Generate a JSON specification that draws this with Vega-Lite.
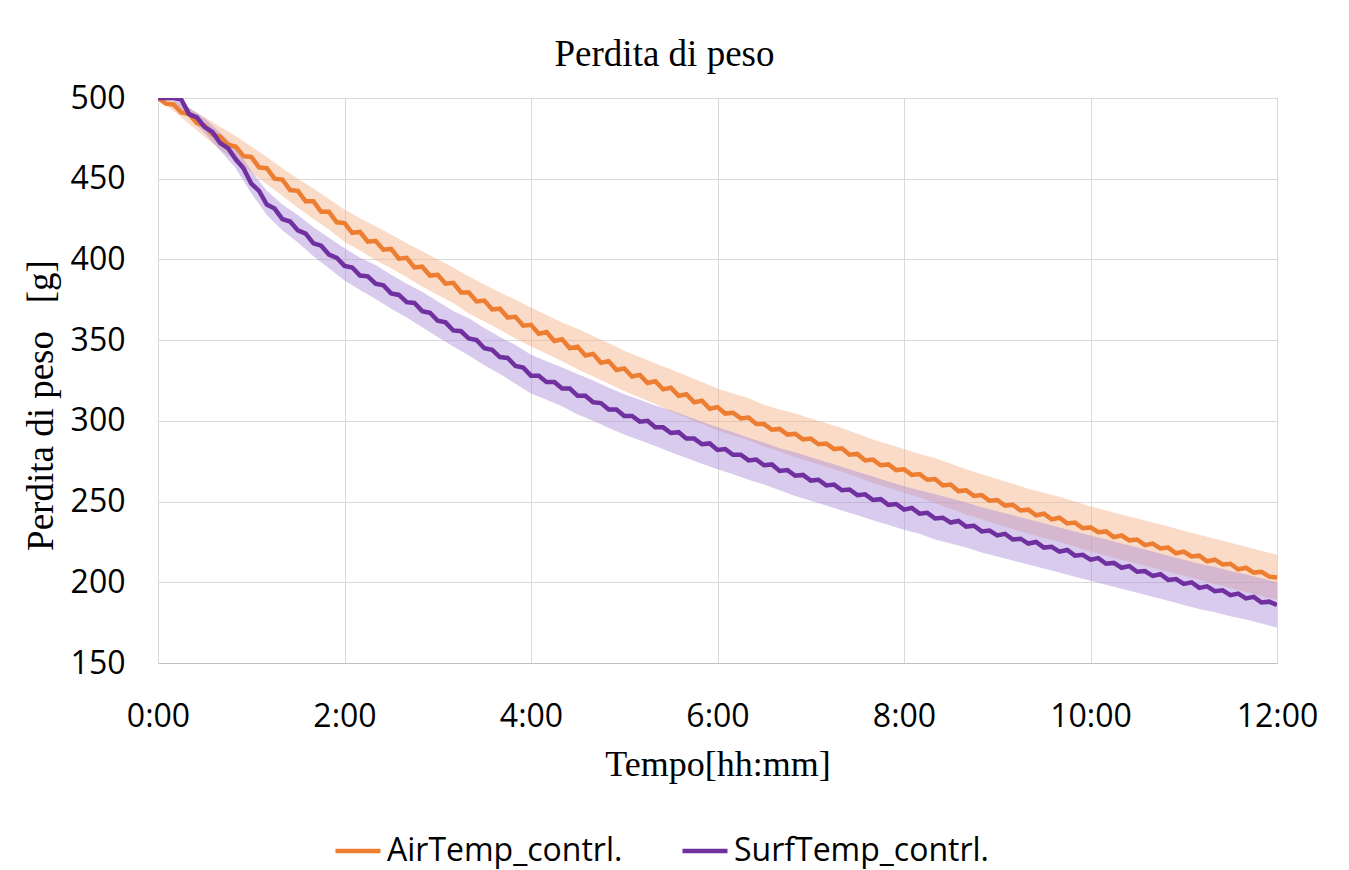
{
"$schema": "https://vega.github.io/schema/vega-lite/v6.json",
"width": 1119, "height": 565,
"autosize": {"type": "none"},
"padding": {"left": 158, "top": 98, "right": 72, "bottom": 207},
"background": "white",
"title": {"text": "Perdita di peso", "font": "Liberation Serif", "fontSize": 37, "fontWeight": "normal", "color": "#000", "anchor": "middle", "dx": -53, "offset": 8},
"datasets": {
"line": [
{"t":0,"s":"AirTemp_contrl.","v":500},{"t":5,"s":"AirTemp_contrl.","v":496.5},{"t":10,"s":"AirTemp_contrl.","v":496},{"t":15,"s":"AirTemp_contrl.","v":491},{"t":20,"s":"AirTemp_contrl.","v":490},{"t":25,"s":"AirTemp_contrl.","v":484.5},{"t":30,"s":"AirTemp_contrl.","v":483},{"t":35,"s":"AirTemp_contrl.","v":477.5},{"t":40,"s":"AirTemp_contrl.","v":476},{"t":45,"s":"AirTemp_contrl.","v":471},{"t":50,"s":"AirTemp_contrl.","v":470},{"t":55,"s":"AirTemp_contrl.","v":464},{"t":60,"s":"AirTemp_contrl.","v":463.5},{"t":65,"s":"AirTemp_contrl.","v":457},{"t":70,"s":"AirTemp_contrl.","v":456.5},{"t":75,"s":"AirTemp_contrl.","v":450},{"t":80,"s":"AirTemp_contrl.","v":449.5},{"t":85,"s":"AirTemp_contrl.","v":443},{"t":90,"s":"AirTemp_contrl.","v":442.5},{"t":95,"s":"AirTemp_contrl.","v":436},{"t":100,"s":"AirTemp_contrl.","v":436},{"t":105,"s":"AirTemp_contrl.","v":429.5},{"t":110,"s":"AirTemp_contrl.","v":429.5},{"t":115,"s":"AirTemp_contrl.","v":423},{"t":120,"s":"AirTemp_contrl.","v":422.5},{"t":125,"s":"AirTemp_contrl.","v":416.5},{"t":130,"s":"AirTemp_contrl.","v":417},{"t":135,"s":"AirTemp_contrl.","v":411},{"t":140,"s":"AirTemp_contrl.","v":411.5},{"t":145,"s":"AirTemp_contrl.","v":406},{"t":150,"s":"AirTemp_contrl.","v":406.5},{"t":155,"s":"AirTemp_contrl.","v":400.5},{"t":160,"s":"AirTemp_contrl.","v":401},{"t":165,"s":"AirTemp_contrl.","v":395},{"t":170,"s":"AirTemp_contrl.","v":395.5},{"t":175,"s":"AirTemp_contrl.","v":390},{"t":180,"s":"AirTemp_contrl.","v":390.5},{"t":185,"s":"AirTemp_contrl.","v":385},{"t":190,"s":"AirTemp_contrl.","v":385.5},{"t":195,"s":"AirTemp_contrl.","v":379.5},{"t":200,"s":"AirTemp_contrl.","v":379.5},{"t":205,"s":"AirTemp_contrl.","v":374},{"t":210,"s":"AirTemp_contrl.","v":374.5},{"t":215,"s":"AirTemp_contrl.","v":369},{"t":220,"s":"AirTemp_contrl.","v":369.5},{"t":225,"s":"AirTemp_contrl.","v":364},{"t":230,"s":"AirTemp_contrl.","v":364.5},{"t":235,"s":"AirTemp_contrl.","v":359},{"t":240,"s":"AirTemp_contrl.","v":359.5},{"t":245,"s":"AirTemp_contrl.","v":354},{"t":250,"s":"AirTemp_contrl.","v":355},{"t":255,"s":"AirTemp_contrl.","v":349.5},{"t":260,"s":"AirTemp_contrl.","v":350.5},{"t":265,"s":"AirTemp_contrl.","v":345},{"t":270,"s":"AirTemp_contrl.","v":346},{"t":275,"s":"AirTemp_contrl.","v":340.5},{"t":280,"s":"AirTemp_contrl.","v":341.5},{"t":285,"s":"AirTemp_contrl.","v":336},{"t":290,"s":"AirTemp_contrl.","v":337},{"t":295,"s":"AirTemp_contrl.","v":331.5},{"t":300,"s":"AirTemp_contrl.","v":332.5},{"t":305,"s":"AirTemp_contrl.","v":327.5},{"t":310,"s":"AirTemp_contrl.","v":328.5},{"t":315,"s":"AirTemp_contrl.","v":323.5},{"t":320,"s":"AirTemp_contrl.","v":324.5},{"t":325,"s":"AirTemp_contrl.","v":319.5},{"t":330,"s":"AirTemp_contrl.","v":320.5},{"t":335,"s":"AirTemp_contrl.","v":315.5},{"t":340,"s":"AirTemp_contrl.","v":316.5},{"t":345,"s":"AirTemp_contrl.","v":311.5},{"t":350,"s":"AirTemp_contrl.","v":312.5},{"t":355,"s":"AirTemp_contrl.","v":307.5},{"t":360,"s":"AirTemp_contrl.","v":308.5},{"t":365,"s":"AirTemp_contrl.","v":304.5},{"t":370,"s":"AirTemp_contrl.","v":305},{"t":375,"s":"AirTemp_contrl.","v":301.5},{"t":380,"s":"AirTemp_contrl.","v":302},{"t":385,"s":"AirTemp_contrl.","v":298},{"t":390,"s":"AirTemp_contrl.","v":298},{"t":395,"s":"AirTemp_contrl.","v":294.5},{"t":400,"s":"AirTemp_contrl.","v":295},{"t":405,"s":"AirTemp_contrl.","v":291.5},{"t":410,"s":"AirTemp_contrl.","v":292},{"t":415,"s":"AirTemp_contrl.","v":288.5},{"t":420,"s":"AirTemp_contrl.","v":289},{"t":425,"s":"AirTemp_contrl.","v":285.5},{"t":430,"s":"AirTemp_contrl.","v":286},{"t":435,"s":"AirTemp_contrl.","v":282.5},{"t":440,"s":"AirTemp_contrl.","v":283},{"t":445,"s":"AirTemp_contrl.","v":279},{"t":450,"s":"AirTemp_contrl.","v":279.5},{"t":455,"s":"AirTemp_contrl.","v":275.5},{"t":460,"s":"AirTemp_contrl.","v":276},{"t":465,"s":"AirTemp_contrl.","v":272.5},{"t":470,"s":"AirTemp_contrl.","v":273},{"t":475,"s":"AirTemp_contrl.","v":269.5},{"t":480,"s":"AirTemp_contrl.","v":270},{"t":485,"s":"AirTemp_contrl.","v":266.5},{"t":490,"s":"AirTemp_contrl.","v":267},{"t":495,"s":"AirTemp_contrl.","v":263.5},{"t":500,"s":"AirTemp_contrl.","v":264},{"t":505,"s":"AirTemp_contrl.","v":260},{"t":510,"s":"AirTemp_contrl.","v":260.5},{"t":515,"s":"AirTemp_contrl.","v":256.5},{"t":520,"s":"AirTemp_contrl.","v":257},{"t":525,"s":"AirTemp_contrl.","v":253.5},{"t":530,"s":"AirTemp_contrl.","v":254},{"t":535,"s":"AirTemp_contrl.","v":250.5},{"t":540,"s":"AirTemp_contrl.","v":251},{"t":545,"s":"AirTemp_contrl.","v":247.5},{"t":550,"s":"AirTemp_contrl.","v":248},{"t":555,"s":"AirTemp_contrl.","v":244.5},{"t":560,"s":"AirTemp_contrl.","v":245},{"t":565,"s":"AirTemp_contrl.","v":241.5},{"t":570,"s":"AirTemp_contrl.","v":242.5},{"t":575,"s":"AirTemp_contrl.","v":239},{"t":580,"s":"AirTemp_contrl.","v":240},{"t":585,"s":"AirTemp_contrl.","v":236.5},{"t":590,"s":"AirTemp_contrl.","v":237},{"t":595,"s":"AirTemp_contrl.","v":233.5},{"t":600,"s":"AirTemp_contrl.","v":234},{"t":605,"s":"AirTemp_contrl.","v":231},{"t":610,"s":"AirTemp_contrl.","v":231.5},{"t":615,"s":"AirTemp_contrl.","v":228},{"t":620,"s":"AirTemp_contrl.","v":229},{"t":625,"s":"AirTemp_contrl.","v":226},{"t":630,"s":"AirTemp_contrl.","v":226.5},{"t":635,"s":"AirTemp_contrl.","v":223},{"t":640,"s":"AirTemp_contrl.","v":224},{"t":645,"s":"AirTemp_contrl.","v":221},{"t":650,"s":"AirTemp_contrl.","v":221.5},{"t":655,"s":"AirTemp_contrl.","v":218},{"t":660,"s":"AirTemp_contrl.","v":219},{"t":665,"s":"AirTemp_contrl.","v":216},{"t":670,"s":"AirTemp_contrl.","v":216.5},{"t":675,"s":"AirTemp_contrl.","v":213},{"t":680,"s":"AirTemp_contrl.","v":214},{"t":685,"s":"AirTemp_contrl.","v":211},{"t":690,"s":"AirTemp_contrl.","v":211.5},{"t":695,"s":"AirTemp_contrl.","v":208},{"t":700,"s":"AirTemp_contrl.","v":209},{"t":705,"s":"AirTemp_contrl.","v":206},{"t":710,"s":"AirTemp_contrl.","v":206.5},{"t":715,"s":"AirTemp_contrl.","v":203.5},{"t":720,"s":"AirTemp_contrl.","v":203},
{"t":0,"s":"SurfTemp_contrl.","v":500},{"t":5,"s":"SurfTemp_contrl.","v":500},{"t":10,"s":"SurfTemp_contrl.","v":500},{"t":15,"s":"SurfTemp_contrl.","v":499},{"t":20,"s":"SurfTemp_contrl.","v":490},{"t":25,"s":"SurfTemp_contrl.","v":488},{"t":30,"s":"SurfTemp_contrl.","v":482},{"t":35,"s":"SurfTemp_contrl.","v":479},{"t":40,"s":"SurfTemp_contrl.","v":472},{"t":45,"s":"SurfTemp_contrl.","v":469},{"t":50,"s":"SurfTemp_contrl.","v":462},{"t":55,"s":"SurfTemp_contrl.","v":456.5},{"t":60,"s":"SurfTemp_contrl.","v":447},{"t":65,"s":"SurfTemp_contrl.","v":442.5},{"t":70,"s":"SurfTemp_contrl.","v":434},{"t":75,"s":"SurfTemp_contrl.","v":431.5},{"t":80,"s":"SurfTemp_contrl.","v":425},{"t":85,"s":"SurfTemp_contrl.","v":423.5},{"t":90,"s":"SurfTemp_contrl.","v":418},{"t":95,"s":"SurfTemp_contrl.","v":416},{"t":100,"s":"SurfTemp_contrl.","v":410},{"t":105,"s":"SurfTemp_contrl.","v":408.5},{"t":110,"s":"SurfTemp_contrl.","v":403},{"t":115,"s":"SurfTemp_contrl.","v":401},{"t":120,"s":"SurfTemp_contrl.","v":396},{"t":125,"s":"SurfTemp_contrl.","v":395},{"t":130,"s":"SurfTemp_contrl.","v":390},{"t":135,"s":"SurfTemp_contrl.","v":389.5},{"t":140,"s":"SurfTemp_contrl.","v":385},{"t":145,"s":"SurfTemp_contrl.","v":384},{"t":150,"s":"SurfTemp_contrl.","v":379},{"t":155,"s":"SurfTemp_contrl.","v":378},{"t":160,"s":"SurfTemp_contrl.","v":373.5},{"t":165,"s":"SurfTemp_contrl.","v":373},{"t":170,"s":"SurfTemp_contrl.","v":368},{"t":175,"s":"SurfTemp_contrl.","v":367},{"t":180,"s":"SurfTemp_contrl.","v":362},{"t":185,"s":"SurfTemp_contrl.","v":361},{"t":190,"s":"SurfTemp_contrl.","v":356},{"t":195,"s":"SurfTemp_contrl.","v":355.5},{"t":200,"s":"SurfTemp_contrl.","v":351},{"t":205,"s":"SurfTemp_contrl.","v":350},{"t":210,"s":"SurfTemp_contrl.","v":345},{"t":215,"s":"SurfTemp_contrl.","v":344},{"t":220,"s":"SurfTemp_contrl.","v":339.5},{"t":225,"s":"SurfTemp_contrl.","v":339},{"t":230,"s":"SurfTemp_contrl.","v":334},{"t":235,"s":"SurfTemp_contrl.","v":333},{"t":240,"s":"SurfTemp_contrl.","v":328},{"t":245,"s":"SurfTemp_contrl.","v":328},{"t":250,"s":"SurfTemp_contrl.","v":324},{"t":255,"s":"SurfTemp_contrl.","v":324},{"t":260,"s":"SurfTemp_contrl.","v":320},{"t":265,"s":"SurfTemp_contrl.","v":320},{"t":270,"s":"SurfTemp_contrl.","v":315.5},{"t":275,"s":"SurfTemp_contrl.","v":315.5},{"t":280,"s":"SurfTemp_contrl.","v":311.5},{"t":285,"s":"SurfTemp_contrl.","v":311},{"t":290,"s":"SurfTemp_contrl.","v":307},{"t":295,"s":"SurfTemp_contrl.","v":307},{"t":300,"s":"SurfTemp_contrl.","v":303},{"t":305,"s":"SurfTemp_contrl.","v":303},{"t":310,"s":"SurfTemp_contrl.","v":299.5},{"t":315,"s":"SurfTemp_contrl.","v":300},{"t":320,"s":"SurfTemp_contrl.","v":296},{"t":325,"s":"SurfTemp_contrl.","v":296},{"t":330,"s":"SurfTemp_contrl.","v":292.5},{"t":335,"s":"SurfTemp_contrl.","v":293},{"t":340,"s":"SurfTemp_contrl.","v":289},{"t":345,"s":"SurfTemp_contrl.","v":289},{"t":350,"s":"SurfTemp_contrl.","v":285.5},{"t":355,"s":"SurfTemp_contrl.","v":286},{"t":360,"s":"SurfTemp_contrl.","v":282},{"t":365,"s":"SurfTemp_contrl.","v":282.5},{"t":370,"s":"SurfTemp_contrl.","v":279},{"t":375,"s":"SurfTemp_contrl.","v":279},{"t":380,"s":"SurfTemp_contrl.","v":275.5},{"t":385,"s":"SurfTemp_contrl.","v":276},{"t":390,"s":"SurfTemp_contrl.","v":272.5},{"t":395,"s":"SurfTemp_contrl.","v":273},{"t":400,"s":"SurfTemp_contrl.","v":269},{"t":405,"s":"SurfTemp_contrl.","v":269.5},{"t":410,"s":"SurfTemp_contrl.","v":266},{"t":415,"s":"SurfTemp_contrl.","v":266.5},{"t":420,"s":"SurfTemp_contrl.","v":263},{"t":425,"s":"SurfTemp_contrl.","v":263.5},{"t":430,"s":"SurfTemp_contrl.","v":260},{"t":435,"s":"SurfTemp_contrl.","v":260.5},{"t":440,"s":"SurfTemp_contrl.","v":257},{"t":445,"s":"SurfTemp_contrl.","v":257.5},{"t":450,"s":"SurfTemp_contrl.","v":254},{"t":455,"s":"SurfTemp_contrl.","v":254.5},{"t":460,"s":"SurfTemp_contrl.","v":251},{"t":465,"s":"SurfTemp_contrl.","v":251.5},{"t":470,"s":"SurfTemp_contrl.","v":248},{"t":475,"s":"SurfTemp_contrl.","v":248.5},{"t":480,"s":"SurfTemp_contrl.","v":245},{"t":485,"s":"SurfTemp_contrl.","v":246},{"t":490,"s":"SurfTemp_contrl.","v":242.5},{"t":495,"s":"SurfTemp_contrl.","v":243},{"t":500,"s":"SurfTemp_contrl.","v":239.5},{"t":505,"s":"SurfTemp_contrl.","v":240},{"t":510,"s":"SurfTemp_contrl.","v":237},{"t":515,"s":"SurfTemp_contrl.","v":238},{"t":520,"s":"SurfTemp_contrl.","v":234.5},{"t":525,"s":"SurfTemp_contrl.","v":235},{"t":530,"s":"SurfTemp_contrl.","v":231.5},{"t":535,"s":"SurfTemp_contrl.","v":232},{"t":540,"s":"SurfTemp_contrl.","v":229},{"t":545,"s":"SurfTemp_contrl.","v":230},{"t":550,"s":"SurfTemp_contrl.","v":226.5},{"t":555,"s":"SurfTemp_contrl.","v":227},{"t":560,"s":"SurfTemp_contrl.","v":224},{"t":565,"s":"SurfTemp_contrl.","v":225},{"t":570,"s":"SurfTemp_contrl.","v":221.5},{"t":575,"s":"SurfTemp_contrl.","v":222},{"t":580,"s":"SurfTemp_contrl.","v":219},{"t":585,"s":"SurfTemp_contrl.","v":220},{"t":590,"s":"SurfTemp_contrl.","v":216.5},{"t":595,"s":"SurfTemp_contrl.","v":217},{"t":600,"s":"SurfTemp_contrl.","v":214},{"t":605,"s":"SurfTemp_contrl.","v":215},{"t":610,"s":"SurfTemp_contrl.","v":211.5},{"t":615,"s":"SurfTemp_contrl.","v":212},{"t":620,"s":"SurfTemp_contrl.","v":209},{"t":625,"s":"SurfTemp_contrl.","v":210},{"t":630,"s":"SurfTemp_contrl.","v":206.5},{"t":635,"s":"SurfTemp_contrl.","v":207},{"t":640,"s":"SurfTemp_contrl.","v":204},{"t":645,"s":"SurfTemp_contrl.","v":205},{"t":650,"s":"SurfTemp_contrl.","v":201.5},{"t":655,"s":"SurfTemp_contrl.","v":202},{"t":660,"s":"SurfTemp_contrl.","v":199},{"t":665,"s":"SurfTemp_contrl.","v":200},{"t":670,"s":"SurfTemp_contrl.","v":196.5},{"t":675,"s":"SurfTemp_contrl.","v":197.5},{"t":680,"s":"SurfTemp_contrl.","v":194.5},{"t":685,"s":"SurfTemp_contrl.","v":195},{"t":690,"s":"SurfTemp_contrl.","v":192},{"t":695,"s":"SurfTemp_contrl.","v":193},{"t":700,"s":"SurfTemp_contrl.","v":190},{"t":705,"s":"SurfTemp_contrl.","v":191},{"t":710,"s":"SurfTemp_contrl.","v":187.5},{"t":715,"s":"SurfTemp_contrl.","v":188},{"t":720,"s":"SurfTemp_contrl.","v":186}
],
"band": [
{"t":0,"s":"AirTemp_contrl.","lo":499,"hi":500},{"t":10,"s":"AirTemp_contrl.","lo":492,"hi":498},{"t":20,"s":"AirTemp_contrl.","lo":484,"hi":494},{"t":30,"s":"AirTemp_contrl.","lo":476,"hi":488},{"t":40,"s":"AirTemp_contrl.","lo":468,"hi":482},{"t":50,"s":"AirTemp_contrl.","lo":461.5,"hi":476.5},{"t":60,"s":"AirTemp_contrl.","lo":454,"hi":470},{"t":70,"s":"AirTemp_contrl.","lo":446.5,"hi":463.5},{"t":80,"s":"AirTemp_contrl.","lo":439.5,"hi":456.5},{"t":90,"s":"AirTemp_contrl.","lo":432,"hi":450},{"t":100,"s":"AirTemp_contrl.","lo":425,"hi":444},{"t":110,"s":"AirTemp_contrl.","lo":418.5,"hi":437.5},{"t":120,"s":"AirTemp_contrl.","lo":411,"hi":431},{"t":130,"s":"AirTemp_contrl.","lo":405.5,"hi":425.5},{"t":140,"s":"AirTemp_contrl.","lo":399.5,"hi":420.5},{"t":150,"s":"AirTemp_contrl.","lo":394.5,"hi":415.5},{"t":160,"s":"AirTemp_contrl.","lo":389,"hi":410},{"t":170,"s":"AirTemp_contrl.","lo":383,"hi":405},{"t":180,"s":"AirTemp_contrl.","lo":378,"hi":400},{"t":190,"s":"AirTemp_contrl.","lo":373,"hi":395},{"t":200,"s":"AirTemp_contrl.","lo":366.5,"hi":389.5},{"t":210,"s":"AirTemp_contrl.","lo":361.5,"hi":384.5},{"t":220,"s":"AirTemp_contrl.","lo":356.5,"hi":379.5},{"t":230,"s":"AirTemp_contrl.","lo":351,"hi":375},{"t":240,"s":"AirTemp_contrl.","lo":346,"hi":370},{"t":250,"s":"AirTemp_contrl.","lo":341.5,"hi":365.5},{"t":260,"s":"AirTemp_contrl.","lo":337,"hi":361},{"t":270,"s":"AirTemp_contrl.","lo":332,"hi":357},{"t":280,"s":"AirTemp_contrl.","lo":327.5,"hi":352.5},{"t":290,"s":"AirTemp_contrl.","lo":323,"hi":348},{"t":300,"s":"AirTemp_contrl.","lo":318.5,"hi":343.5},{"t":310,"s":"AirTemp_contrl.","lo":314.5,"hi":339.5},{"t":320,"s":"AirTemp_contrl.","lo":310.5,"hi":335.5},{"t":330,"s":"AirTemp_contrl.","lo":306,"hi":332},{"t":340,"s":"AirTemp_contrl.","lo":302,"hi":328},{"t":350,"s":"AirTemp_contrl.","lo":298,"hi":324},{"t":360,"s":"AirTemp_contrl.","lo":294,"hi":320},{"t":370,"s":"AirTemp_contrl.","lo":291,"hi":317},{"t":380,"s":"AirTemp_contrl.","lo":288,"hi":314},{"t":390,"s":"AirTemp_contrl.","lo":284,"hi":310},{"t":400,"s":"AirTemp_contrl.","lo":281,"hi":307},{"t":410,"s":"AirTemp_contrl.","lo":277.5,"hi":304.5},{"t":420,"s":"AirTemp_contrl.","lo":274.5,"hi":301.5},{"t":430,"s":"AirTemp_contrl.","lo":271.5,"hi":298.5},{"t":440,"s":"AirTemp_contrl.","lo":268.5,"hi":295.5},{"t":450,"s":"AirTemp_contrl.","lo":265,"hi":292},{"t":460,"s":"AirTemp_contrl.","lo":261.5,"hi":288.5},{"t":470,"s":"AirTemp_contrl.","lo":258.5,"hi":285.5},{"t":480,"s":"AirTemp_contrl.","lo":255.5,"hi":282.5},{"t":490,"s":"AirTemp_contrl.","lo":252.5,"hi":279.5},{"t":500,"s":"AirTemp_contrl.","lo":249,"hi":277},{"t":510,"s":"AirTemp_contrl.","lo":245.5,"hi":273.5},{"t":520,"s":"AirTemp_contrl.","lo":242,"hi":270},{"t":530,"s":"AirTemp_contrl.","lo":239,"hi":267},{"t":540,"s":"AirTemp_contrl.","lo":236,"hi":264},{"t":550,"s":"AirTemp_contrl.","lo":233,"hi":261},{"t":560,"s":"AirTemp_contrl.","lo":230,"hi":258},{"t":570,"s":"AirTemp_contrl.","lo":227.5,"hi":255.5},{"t":580,"s":"AirTemp_contrl.","lo":225,"hi":253},{"t":590,"s":"AirTemp_contrl.","lo":222,"hi":250},{"t":600,"s":"AirTemp_contrl.","lo":219,"hi":247},{"t":610,"s":"AirTemp_contrl.","lo":216.5,"hi":244.5},{"t":620,"s":"AirTemp_contrl.","lo":214,"hi":242},{"t":630,"s":"AirTemp_contrl.","lo":211.5,"hi":239.5},{"t":640,"s":"AirTemp_contrl.","lo":209,"hi":237},{"t":650,"s":"AirTemp_contrl.","lo":206.5,"hi":234.5},{"t":660,"s":"AirTemp_contrl.","lo":204,"hi":232},{"t":670,"s":"AirTemp_contrl.","lo":201.5,"hi":229.5},{"t":680,"s":"AirTemp_contrl.","lo":199,"hi":227},{"t":690,"s":"AirTemp_contrl.","lo":196.5,"hi":224.5},{"t":700,"s":"AirTemp_contrl.","lo":194,"hi":222},{"t":710,"s":"AirTemp_contrl.","lo":191.5,"hi":219.5},{"t":720,"s":"AirTemp_contrl.","lo":189,"hi":217},
{"t":0,"s":"SurfTemp_contrl.","lo":499,"hi":500},{"t":10,"s":"SurfTemp_contrl.","lo":498,"hi":500},{"t":20,"s":"SurfTemp_contrl.","lo":488,"hi":494},{"t":30,"s":"SurfTemp_contrl.","lo":478.5,"hi":487.5},{"t":40,"s":"SurfTemp_contrl.","lo":467.5,"hi":478.5},{"t":50,"s":"SurfTemp_contrl.","lo":456.5,"hi":469.5},{"t":60,"s":"SurfTemp_contrl.","lo":441,"hi":455},{"t":70,"s":"SurfTemp_contrl.","lo":427.5,"hi":442.5},{"t":80,"s":"SurfTemp_contrl.","lo":418,"hi":434},{"t":90,"s":"SurfTemp_contrl.","lo":410.5,"hi":427.5},{"t":100,"s":"SurfTemp_contrl.","lo":402,"hi":420},{"t":110,"s":"SurfTemp_contrl.","lo":394.5,"hi":413.5},{"t":120,"s":"SurfTemp_contrl.","lo":387,"hi":407},{"t":130,"s":"SurfTemp_contrl.","lo":381,"hi":401},{"t":140,"s":"SurfTemp_contrl.","lo":375.5,"hi":396.5},{"t":150,"s":"SurfTemp_contrl.","lo":369.5,"hi":390.5},{"t":160,"s":"SurfTemp_contrl.","lo":364,"hi":385},{"t":170,"s":"SurfTemp_contrl.","lo":358,"hi":380},{"t":180,"s":"SurfTemp_contrl.","lo":352,"hi":374},{"t":190,"s":"SurfTemp_contrl.","lo":346,"hi":368},{"t":200,"s":"SurfTemp_contrl.","lo":340.5,"hi":363.5},{"t":210,"s":"SurfTemp_contrl.","lo":334.5,"hi":357.5},{"t":220,"s":"SurfTemp_contrl.","lo":329,"hi":352},{"t":230,"s":"SurfTemp_contrl.","lo":323,"hi":347},{"t":240,"s":"SurfTemp_contrl.","lo":317,"hi":341},{"t":250,"s":"SurfTemp_contrl.","lo":313,"hi":337},{"t":260,"s":"SurfTemp_contrl.","lo":309,"hi":333},{"t":270,"s":"SurfTemp_contrl.","lo":304,"hi":329},{"t":280,"s":"SurfTemp_contrl.","lo":300,"hi":325},{"t":290,"s":"SurfTemp_contrl.","lo":295.5,"hi":320.5},{"t":300,"s":"SurfTemp_contrl.","lo":291.5,"hi":316.5},{"t":310,"s":"SurfTemp_contrl.","lo":288,"hi":313},{"t":320,"s":"SurfTemp_contrl.","lo":284.5,"hi":309.5},{"t":330,"s":"SurfTemp_contrl.","lo":280.5,"hi":306.5},{"t":340,"s":"SurfTemp_contrl.","lo":277,"hi":303},{"t":350,"s":"SurfTemp_contrl.","lo":273.5,"hi":299.5},{"t":360,"s":"SurfTemp_contrl.","lo":270,"hi":296},{"t":370,"s":"SurfTemp_contrl.","lo":267,"hi":293},{"t":380,"s":"SurfTemp_contrl.","lo":263.5,"hi":289.5},{"t":390,"s":"SurfTemp_contrl.","lo":260.5,"hi":286.5},{"t":400,"s":"SurfTemp_contrl.","lo":257,"hi":283},{"t":410,"s":"SurfTemp_contrl.","lo":253.5,"hi":280.5},{"t":420,"s":"SurfTemp_contrl.","lo":250.5,"hi":277.5},{"t":430,"s":"SurfTemp_contrl.","lo":247.5,"hi":274.5},{"t":440,"s":"SurfTemp_contrl.","lo":244.5,"hi":271.5},{"t":450,"s":"SurfTemp_contrl.","lo":241.5,"hi":268.5},{"t":460,"s":"SurfTemp_contrl.","lo":238.5,"hi":265.5},{"t":470,"s":"SurfTemp_contrl.","lo":235.5,"hi":262.5},{"t":480,"s":"SurfTemp_contrl.","lo":232.5,"hi":259.5},{"t":490,"s":"SurfTemp_contrl.","lo":230,"hi":257},{"t":500,"s":"SurfTemp_contrl.","lo":226.5,"hi":254.5},{"t":510,"s":"SurfTemp_contrl.","lo":224,"hi":252},{"t":520,"s":"SurfTemp_contrl.","lo":221.5,"hi":249.5},{"t":530,"s":"SurfTemp_contrl.","lo":218.5,"hi":246.5},{"t":540,"s":"SurfTemp_contrl.","lo":216,"hi":244},{"t":550,"s":"SurfTemp_contrl.","lo":213.5,"hi":241.5},{"t":560,"s":"SurfTemp_contrl.","lo":211,"hi":239},{"t":570,"s":"SurfTemp_contrl.","lo":208.5,"hi":236.5},{"t":580,"s":"SurfTemp_contrl.","lo":206,"hi":234},{"t":590,"s":"SurfTemp_contrl.","lo":203.5,"hi":231.5},{"t":600,"s":"SurfTemp_contrl.","lo":201,"hi":229},{"t":610,"s":"SurfTemp_contrl.","lo":198.5,"hi":226.5},{"t":620,"s":"SurfTemp_contrl.","lo":196,"hi":224},{"t":630,"s":"SurfTemp_contrl.","lo":193.5,"hi":221.5},{"t":640,"s":"SurfTemp_contrl.","lo":191,"hi":219},{"t":650,"s":"SurfTemp_contrl.","lo":188.5,"hi":216.5},{"t":660,"s":"SurfTemp_contrl.","lo":186,"hi":214},{"t":670,"s":"SurfTemp_contrl.","lo":183.5,"hi":211.5},{"t":680,"s":"SurfTemp_contrl.","lo":181.5,"hi":209.5},{"t":690,"s":"SurfTemp_contrl.","lo":179,"hi":207},{"t":700,"s":"SurfTemp_contrl.","lo":177,"hi":205},{"t":710,"s":"SurfTemp_contrl.","lo":174.5,"hi":202.5},{"t":720,"s":"SurfTemp_contrl.","lo":172,"hi":200}
]
},
"encoding": {
"x": {"field": "t", "type": "quantitative", "scale": {"domain": [0, 720], "nice": false},
 "axis": {"values": [0, 120, 240, 360, 480, 600, 720], "labelExpr": "floor(datum.value / 60) + ':00'", "title": "Tempo[hh:mm]", "grid": true, "gridColor": "#D9D9D9", "domainColor": "#BFBFBF", "ticks": false, "labelFont": "Open Sans", "labelFontSize": 32, "labelColor": "#000", "labelPadding": 38, "labelFlush": false, "labelOverlap": false, "titleFont": "Liberation Serif", "titleFontSize": 36, "titleFontWeight": "normal", "titleColor": "#000", "titlePadding": 15}}
},
"layer": [
{"data": {"name": "band"}, "mark": {"type": "area", "opacity": 0.45, "clip": true},
 "encoding": {
  "y": {"field": "lo", "type": "quantitative", "scale": {"domain": [150, 500], "nice": false},
   "axis": {"values": [150, 200, 250, 300, 350, 400, 450, 500], "title": "Perdita di peso\u00a0\u00a0\u00a0[g]", "grid": true, "gridColor": "#D9D9D9", "domain": false, "ticks": false, "labelFont": "Open Sans", "labelFontSize": 32, "labelColor": "#000", "labelPadding": 33, "titleFont": "Liberation Serif", "titleFontSize": 37, "titleFontWeight": "normal", "titleColor": "#000", "titlePadding": 10, "titleY": 307}},
  "y2": {"field": "hi"},
  "color": {"field": "s", "type": "nominal", "scale": {"domain": ["AirTemp_contrl.", "SurfTemp_contrl."], "range": ["#F4B084", "#A98BD6"]}, "legend": null}
 }},
{"data": {"name": "line"}, "mark": {"type": "line", "strokeWidth": 4.5, "clip": true},
 "encoding": {
  "y": {"field": "v", "type": "quantitative", "title": "Perdita di peso\u00a0\u00a0\u00a0[g]"},
  "color": {"field": "s", "type": "nominal", "scale": {"domain": ["AirTemp_contrl.", "SurfTemp_contrl."], "range": ["#ED7D31", "#7030A0"]},
   "legend": {"orient": "none", "legendX": 175, "legendY": 728, "direction": "horizontal", "title": null, "labelFont": "Open Sans", "labelFontSize": 32, "labelColor": "#000", "labelLimit": 500, "symbolType": "stroke", "symbolSize": 2025, "symbolStrokeWidth": 4.5, "labelOffset": 4, "columnPadding": 50, "padding": 0}}
 }}
],
"resolve": {"scale": {"color": "independent"}, "legend": {"color": "independent"}},
"config": {"view": {"stroke": null}}
}
